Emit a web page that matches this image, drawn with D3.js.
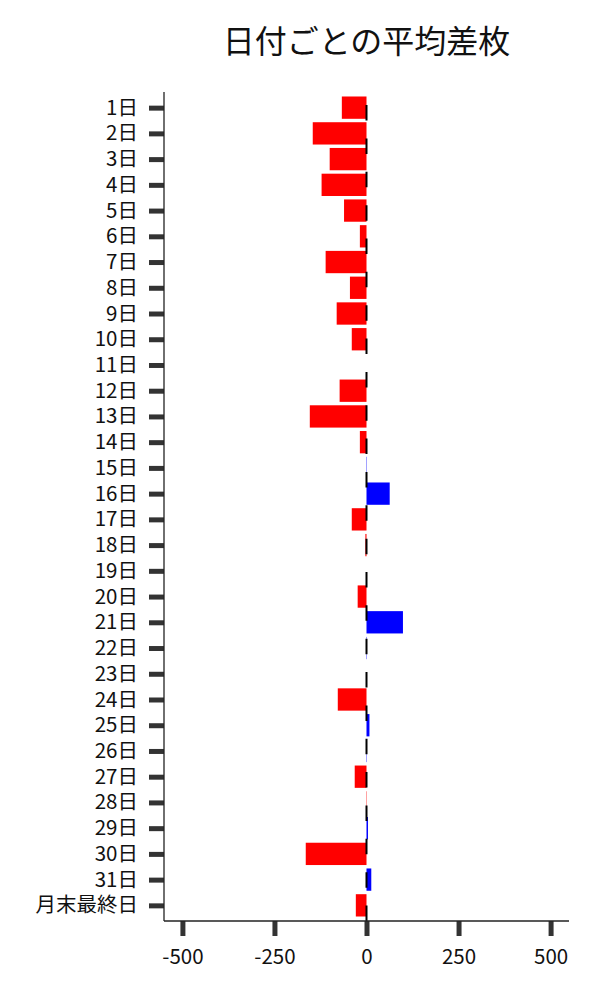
<!DOCTYPE html>
<html>
<head>
<meta charset="utf-8">
<script src="https://cdn.jsdelivr.net/npm/d3@7"></script>
<style>
  html, body { margin: 0; padding: 0; background: #fff; }
  svg { display: block; font-family: "Noto Sans CJK JP", "Noto Sans", sans-serif; }
</style>
</head>
<body>
<svg id="chart" width="600" height="1000"></svg>
<script>
const title = "日付ごとの平均差枚";
const categories = ["1日","2日","3日","4日","5日","6日","7日","8日","9日","10日",
  "11日","12日","13日","14日","15日","16日","17日","18日","19日","20日",
  "21日","22日","23日","24日","25日","26日","27日","28日","29日","30日",
  "31日","月末最終日"];
const values = [-67, -146, -100, -122, -61, -18, -111, -45, -81, -40,
  0, -73, -154, -18, 1, 63, -40, -3, 0, -24,
  99, 1, 0, -78, 8, 1, -32, -1, 4, -165,
  13, -29];
const xTicks = [-500, -250, 0, 250, 500];
const xDomain = [-550, 550];

const svg = d3.select("#chart");
const mLeft = 164, mRight = 569, mTop = 92, mBottom = 921;

const x = d3.scaleLinear().domain(xDomain).range([mLeft, mRight]);
const y = d3.scalePoint().domain(categories).range([mTop, mBottom]).padding(0.608);
const barH = y.step() * 0.867;

// title
svg.append("text")
  .attr("x", (mLeft + mRight) / 2)
  .attr("y", 53)
  .attr("text-anchor", "middle")
  .attr("font-size", 32)
  .attr("fill", "#111")
  .text(title);

// bars
svg.append("g").selectAll("rect")
  .data(categories.map((c, i) => ({c, v: values[i]})))
  .join("rect")
  .attr("x", d => x(Math.min(0, d.v)))
  .attr("width", d => Math.abs(x(d.v) - x(0)))
  .attr("y", d => y(d.c) - barH / 2)
  .attr("height", barH)
  .attr("fill", d => d.v >= 0 ? "#0000ff" : "#ff0000");

// zero dashed line (drawn from bottom up)
svg.append("line")
  .attr("x1", x(0)).attr("x2", x(0))
  .attr("y1", mBottom).attr("y2", mTop)
  .attr("stroke", "#000")
  .attr("stroke-width", 2)
  .attr("stroke-dasharray", "15.5,17.85");

// y axis
const yAxis = d3.axisLeft(y).tickSize(15).tickPadding(11);
const gy = svg.append("g").attr("transform", `translate(${mLeft},0)`).call(yAxis);
gy.select(".domain").remove();
gy.selectAll(".tick line").attr("stroke", "#333").attr("stroke-width", 5);
gy.selectAll(".tick text").attr("font-size", 20.5).attr("fill", "#111")
  .attr("font-family", "'Noto Sans CJK JP', sans-serif");

// x axis
const xAxis = d3.axisBottom(x).tickValues(xTicks).tickFormat(d => String(d)).tickSize(15).tickPadding(13);
const gx = svg.append("g").attr("transform", `translate(0,${mBottom})`).call(xAxis);
gx.select(".domain").remove();
gx.selectAll(".tick line").attr("stroke", "#333").attr("stroke-width", 5);
gx.selectAll(".tick text").attr("font-size", 20.5).attr("fill", "#111")
  .attr("font-family", "'Noto Sans CJK JP', sans-serif");

// spines
svg.append("line").attr("x1", mLeft).attr("x2", mLeft).attr("y1", mTop).attr("y2", mBottom)
  .attr("stroke", "#222").attr("stroke-width", 1.3);
svg.append("line").attr("x1", mLeft).attr("x2", mRight).attr("y1", mBottom).attr("y2", mBottom)
  .attr("stroke", "#222").attr("stroke-width", 1.3);
</script>
</body>
</html>
